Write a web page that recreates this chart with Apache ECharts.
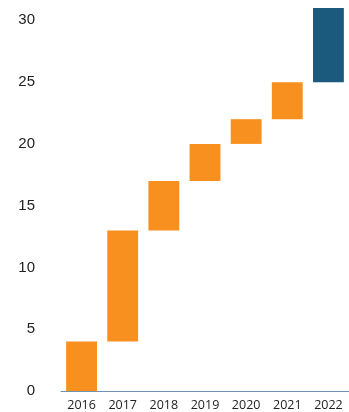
<!DOCTYPE html>
<html>
<head>
<meta charset="utf-8">
<script src="https://cdn.jsdelivr.net/npm/echarts@6/dist/echarts.min.js"></script>
<style>html,body{margin:0;padding:0;background:#fff}#c{width:349px;height:412px}</style>
</head>
<body>
<div id="c"></div>
<script>
var categories = ['2016','2017','2018','2019','2020','2021','2022'];
var starts = [0, 4, 13, 17, 20, 22, 25];
var ends = [4, 13, 17, 20, 22, 25, 31];
var yTicks = [0, 5, 10, 15, 20, 25, 30];

var orange = '#F7901E';
var navy = '#1B5A7C';
var deltas = ends.map(function (e, i) { return e - starts[i]; });
var chart = echarts.init(document.getElementById('c'));
chart.setOption({
  animation: false,
  grid: { left: 61, right: 0, top: 8, bottom: 17, containLabel: false },
  xAxis: {
    type: 'category',
    data: categories,
    axisLine: { show: true, lineStyle: { color: '#6F93B0', width: 1 } },
    axisTick: { show: false },
    axisLabel: { color: '#222', fontSize: 12.5, fontFamily: 'Open Sans', margin: 8 }
  },
  yAxis: {
    type: 'value',
    min: 0, max: 31, interval: 5,
    splitLine: { show: false },
    axisLine: { show: false },
    axisTick: { show: false },
    axisLabel: {
      color: '#222', fontSize: 15, fontFamily: 'Liberation Sans', margin: 26,
      showMaxLabel: false,
      formatter: function (v) { return yTicks.indexOf(v) >= 0 ? String(v) : ''; }
    }
  },
  series: [
    {
      type: 'bar', stack: 'w', barWidth: '75%',
      itemStyle: { color: 'transparent' },
      data: starts, silent: true
    },
    {
      type: 'bar', stack: 'w', barWidth: '75%',
      data: deltas.map(function (d, i) {
        return { value: d, itemStyle: { color: i === deltas.length - 1 ? navy : orange } };
      })
    }
  ]
});
</script>
</body>
</html>
